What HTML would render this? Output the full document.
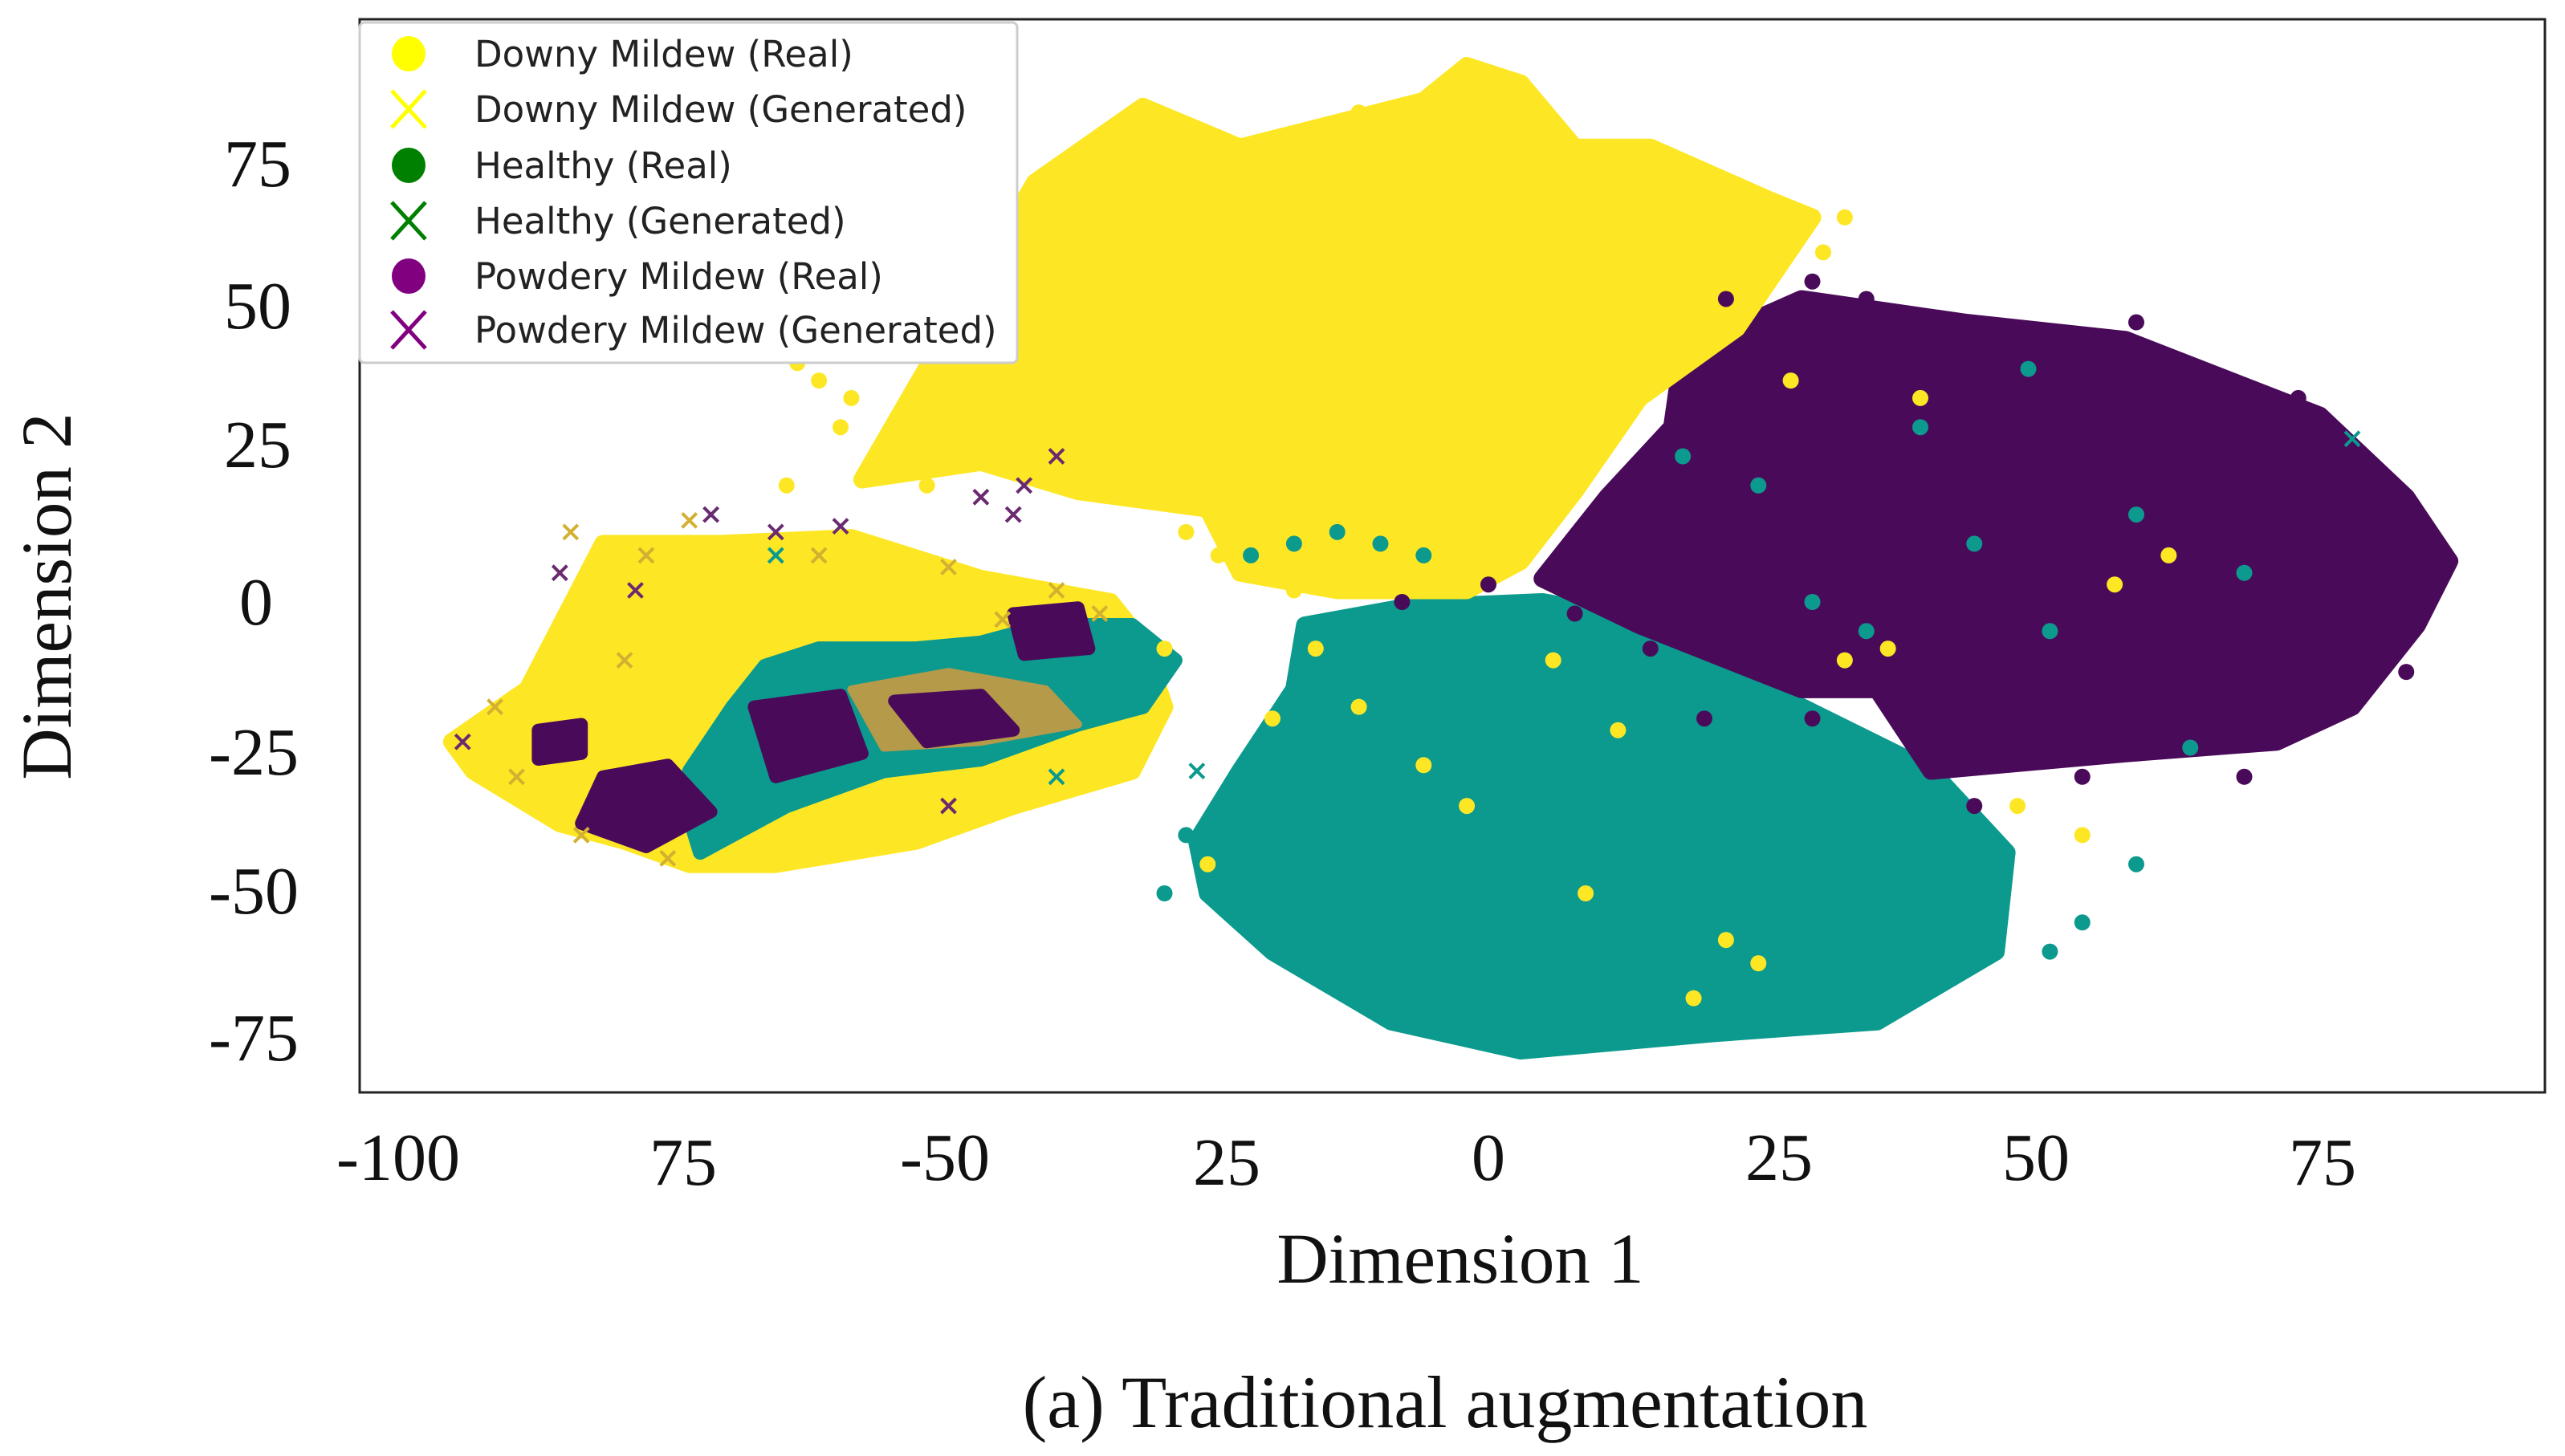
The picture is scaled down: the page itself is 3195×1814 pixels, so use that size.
<!DOCTYPE html>
<html><head><meta charset="utf-8"><style>
html,body{margin:0;padding:0;background:#fff;}
svg{display:block;}
.tk{font-family:"Liberation Serif",serif;font-size:84px;fill:#111;}
.ax{font-family:"Liberation Serif",serif;font-size:89px;fill:#111;}
.cap{font-family:"Liberation Serif",serif;font-size:92px;fill:#111;}
.lg{font-family:"DejaVu Sans","Liberation Sans",sans-serif;font-size:45px;fill:#222;}
</style></head><body>
<svg id="chart" width="3195" height="1814" viewBox="0 0 3195 1814" xmlns="http://www.w3.org/2000/svg">
<rect x="448" y="24" width="2722" height="1337" fill="#fff" stroke="#222" stroke-width="3"/>
<g id="marks"></g>
<g class="tk" text-anchor="end">
<text x="363" y="232">75</text><text x="363" y="409">50</text><text x="363" y="582">25</text>
<text x="340" y="778">0</text><text x="372" y="965">-25</text><text x="372" y="1138">-50</text><text x="372" y="1321">-75</text>
</g>
<g class="tk" text-anchor="middle">
<text x="496" y="1470">-100</text><text x="851" y="1476">75</text><text x="1177" y="1470">-50</text>
<text x="1528" y="1476">25</text><text x="1854" y="1470">0</text><text x="2216" y="1470">25</text>
<text x="2536" y="1470">50</text><text x="2893" y="1476">75</text>
</g>
<text x="1819" y="1598" text-anchor="middle" class="ax">Dimension 1</text>
<text x="0" y="0" transform="translate(88,743) rotate(-90)" text-anchor="middle" class="ax">Dimension 2</text>
<text x="1800" y="1778" text-anchor="middle" class="cap">(a) Traditional augmentation</text>
<g>
<rect x="448" y="28" width="819" height="424" rx="6" fill="#fff" stroke="#ccc" stroke-width="3"/>
<g><ellipse cx="509" cy="67" rx="21" ry="22" fill="#ffff00"/><text x="591" y="83" class="lg">Downy Mildew (Real)</text></g>
<g><path d="M488 113 L530 159 M530 113 L488 159" stroke="#ffff00" stroke-width="5"/><text x="591" y="152" class="lg">Downy Mildew (Generated)</text></g>
<g><ellipse cx="509" cy="206" rx="21" ry="22" fill="#008000"/><text x="591" y="222" class="lg">Healthy (Real)</text></g>
<g><path d="M488 252 L530 298 M530 252 L488 298" stroke="#008000" stroke-width="5"/><text x="591" y="291" class="lg">Healthy (Generated)</text></g>
<g><ellipse cx="509" cy="344" rx="21" ry="22" fill="#800080"/><text x="591" y="360" class="lg">Powdery Mildew (Real)</text></g>
<g><path d="M488 388 L530 434 M530 388 L488 434" stroke="#800080" stroke-width="5"/><text x="591" y="427" class="lg">Powdery Mildew (Generated)</text></g>
</g>
</svg>
<script>
const YEL="#fde725", TEAL="#0c9a8e", PUR="#4a0a5a";
// cluster outlines (data coords)
const yellowRealOutline=[[-58,21],[-53,37],[-42,72],[-32,85],[-23,78],[-6,86],[-2,92],[3,89],[8,78],[15,78],[26,69],[30,66],[23,47],[14,35],[8,19],[3,7],[-2,2],[-14,2],[-23,5],[-26,16],[-38,19],[-47,24]];
const purpleRealOutline=[[18,43],[29,52],[44,48],[59,45],[77,32],[85,18],[89,7],[86,-4],[80,-18],[73,-24],[59,-26],[41,-29],[36,-15],[29,-15],[14,-4],[5,4],[11,18],[17,30]];
const tealRealOutline=[[-17,-4],[-8,-1],[5,0],[14,-3],[20,-10],[29,-18],[41,-29],[48,-43],[47,-60],[36,-72],[21,-74],[3,-77],[-9,-72],[-20,-60],[-26,-50],[-27,-41],[-23,-29],[-18,-15]];
const generatedOutline=[[-96,-24],[-89,-15],[-82,10],[-71,10],[-59,11],[-47,4],[-35,0],[-32,-7],[-30,-18],[-33,-29],[-44,-35],[-53,-41],[-66,-45],[-74,-45],[-80,-41],[-86,-38],[-94,-29]];
const tealGenOutline=[[-73,-43],[-65,-35],[-56,-29],[-47,-27],[-38,-21],[-32,-18],[-29,-10],[-33,-4],[-41,-4],[-47,-7],[-53,-8],[-62,-8],[-67,-11],[-70,-18],[-74,-29],[-74,-37]];
const tealGenHole=[[-59,-15],[-50,-12],[-41,-15],[-38,-21],[-47,-24],[-56,-25]];
const purpleGenPatches=[
 [[-82,-30],[-76,-28],[-72,-36],[-78,-42],[-84,-38]],
 [[-68,-18],[-60,-16],[-58,-26],[-66,-30]],
 [[-44,-2],[-38,-1],[-37,-8],[-43,-9]],
 [[-88,-22],[-84,-21],[-84,-26],[-88,-27]],
 [[-55,-17],[-47,-16],[-44,-22],[-52,-24]]];
// loose points
const yellowLoose=[[-65,20],[-60,30],[-56,24],[-50,45],[-45,55],[-40,65],[-25,8],[-20,5],[-16,-8],[-12,-18],[-20,-20],[6,-10],[12,-22],[-6,-28],[9,-50],[19,-68],[22,-58],[25,-62],[58,3],[63,8],[55,-40],[37,-8],[49,-35],[-2,-35],[33,-10],[40,35],[28,38],[-30,-8],[-26,-45],[-10,5],[-64,41],[-59,35],[-62,38],[-48,50],[-36,78],[-30,82],[-12,84],[20,74],[33,66],[31,60],[-44,30],[-52,20],[-28,12],[-18,2]];
const purpleLoose=[[22,52],[30,55],[35,52],[60,48],[75,35],[88,10],[85,-12],[70,-30],[45,-35],[30,-20],[8,-2],[0,3],[-8,0],[20,-20],[15,-8],[55,-30],[40,-25]];
const tealLoose=[[18,25],[25,20],[40,30],[45,10],[52,-5],[60,15],[70,5],[50,40],[30,0],[65,-25],[35,-5],[-18,10],[-22,8],[-10,10],[-30,-50],[-28,-40],[52,-60],[55,-55],[60,-45],[-14,12],[-6,8]];
const genYellowX=[[-85,12],[-78,8],[-74,14],[-92,-18],[-90,-30],[-84,-40],[-76,-44],[-62,8],[-50,6],[-40,2],[-36,-2],[-45,-3],[-80,-10]];
const genPurpleX=[[-72,15],[-66,12],[-60,13],[-47,18],[-44,15],[-43,20],[-40,25],[-95,-24],[-86,5],[-79,2],[-50,-35]];
const genTealX=[[-27,-29],[80,28],[-66,8],[-40,-30]];
const xs=d=>1854+d*13.45, ys=d=>750-d*7.26;
const g=document.getElementById('marks');
const NS="http://www.w3.org/2000/svg";
function poly(pts,color,sw,name,op){
 const p=document.createElementNS(NS,'polygon');
 p.setAttribute('points',pts.map(q=>xs(q[0])+','+ys(q[1])).join(' '));
 p.setAttribute('fill',color);p.setAttribute('stroke',color);
 p.setAttribute('stroke-width',sw);p.setAttribute('stroke-linejoin','round');
 if(op)p.setAttribute('opacity',op);
 
 
 g.appendChild(p);
}
function dots(arr,color,name){
 arr.forEach(q=>{const c=document.createElementNS(NS,'circle');
 c.setAttribute('cx',xs(q[0]));c.setAttribute('cy',ys(q[1]));c.setAttribute('r',10);c.setAttribute('fill',color);
 
 
 g.appendChild(c);});
}
function crosses(arr,color,name){
 arr.forEach(q=>{const x=xs(q[0]),y=ys(q[1]);const p=document.createElementNS(NS,'path');
 p.setAttribute('d',`M${x-9} ${y-9}L${x+9} ${y+9}M${x+9} ${y-9}L${x-9} ${y+9}`);
 p.setAttribute('stroke',color);p.setAttribute('stroke-width',4);
 
 
 g.appendChild(p);});
}
poly(generatedOutline,YEL,22,'downy-generated-cluster');
poly(tealGenOutline,TEAL,18,'healthy-generated-cluster');
poly(tealGenHole,"#b59a4a",10,'mixed-generated-core');
purpleGenPatches.forEach(pp=>poly(pp,PUR,16,'powdery-generated-patch'));
poly(tealRealOutline,TEAL,22,'healthy-real-cluster');
poly(purpleRealOutline,PUR,22,'powdery-real-cluster');
poly(yellowRealOutline,YEL,22,'downy-real-cluster');
dots(yellowLoose,YEL,'downy-real-point');
dots(purpleLoose,PUR,'powdery-real-point');
dots(tealLoose,TEAL,'healthy-real-point');
crosses(genYellowX,"#d4b030",'downy-generated-point');
crosses(genPurpleX,"#6a2a70",'powdery-generated-point');
crosses(genTealX,TEAL,'healthy-generated-point');
</script>
</body></html>
